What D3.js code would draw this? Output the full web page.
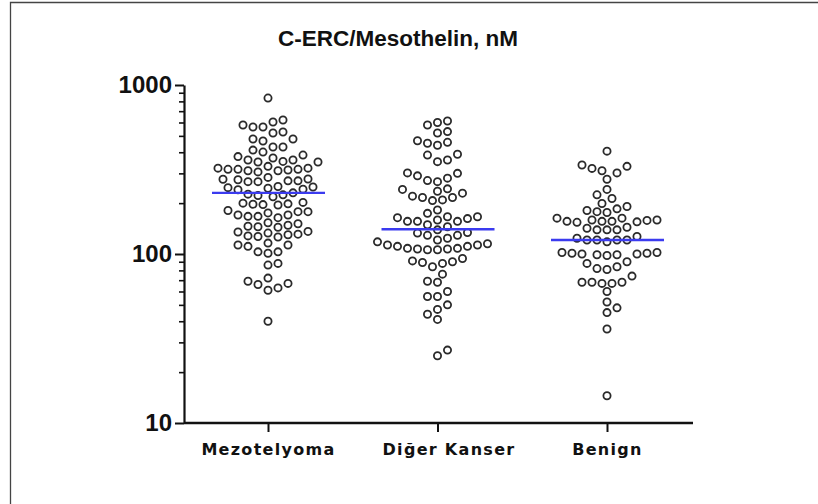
<!DOCTYPE html>
<html><head><meta charset="utf-8">
<script src="https://cdn.jsdelivr.net/npm/d3@7"></script>
<style>html,body{margin:0;padding:0;background:#fff;overflow:hidden;}svg{display:block;}</style>
</head><body><svg id="c" width="818" height="504"></svg>
<script>
const title = "C-ERC/Mesothelin, nM";
const categories = ["Mezotelyoma", "Diğer Kanser", "Benign"];
const mezotelyoma = [837, 621, 604, 580, 564, 564, 527, 520, 479, 479, 466, 430, 430, 412, 401,
  385, 377, 370, 360, 360, 353, 350, 350,
  330, 322, 322, 317, 317, 317, 314, 311, 311, 306,
  284, 278, 277, 275, 271, 271, 268, 268,
  251, 249, 247, 245, 242, 240,
  230, 226, 224, 222, 218,
  202, 200, 198, 197, 196, 195,
  181, 178, 178, 175, 170, 170, 167, 167, 164,
  153, 151, 148, 146, 145, 144,
  136, 135, 133, 131, 130, 128, 127, 126,
  116, 113, 113, 111,
  103, 103, 101,
  88, 86,
  72,
  69, 67, 66, 63, 61,
  40];
const digerKanser = [612, 600, 580, 530, 520,
  468, 458, 452, 440,
  389, 385, 360, 352,
  302, 300, 290, 281, 272, 268,
  243, 241, 235, 229, 220,
  216, 216, 209, 207, 182,
  174, 166, 166, 164, 162, 159,
  156, 156, 156, 149, 145,
  139, 134, 133, 129, 129, 124, 121,
  118, 115, 113, 113, 111, 111, 108, 108, 107, 107, 106, 106,
  94, 91, 90, 89, 88, 84,
  76, 69, 68, 60, 56, 56, 50, 47, 44, 41, 27, 25];
const benign = [406, 336, 330, 321, 311, 302, 277, 241, 224, 213, 199,
  191, 185, 181, 178, 176,
  163, 163, 159, 159, 158, 156, 156, 156, 155, 154,
  144, 142, 139, 139, 139,
  127, 124, 121, 121, 121, 121, 118,
  102, 102, 101, 101, 100, 100, 99, 99, 98,
  90, 88, 84, 82, 81,
  74, 68, 68, 68, 67, 67,
  60, 52, 48, 45, 36, 14.5];
const medians = [230, 140, 121];
const majorTicks = [10, 100, 1000];
const minorTicks = [20, 30, 40, 50, 60, 70, 80, 90, 200, 300, 400, 500, 600, 700, 800, 900];

const groups = [mezotelyoma, digerKanser, benign];

const svg = d3.select("#c");
svg.append("rect").attr("width", 818).attr("height", 504).attr("fill", "#fff");
svg.append("path").attr("d", "M10.5,504V2.5H818").attr("fill", "none")
  .attr("stroke", "#444").attr("stroke-width", 1.3);

const y = d3.scaleLog().domain([10, 1000]).range([423, 85]);
const x = d3.scalePoint().domain(categories).range([268, 607]);
const axisLeftX = 184, axisRightX = 693;

// title
svg.append("text").attr("x", 398).attr("y", 46).attr("text-anchor", "middle")
  .style("font-family", "'Liberation Sans', Arial, sans-serif").style("font-weight", "bold")
  .style("font-size", "22.5px").attr("fill", "#111").text(title);

// y axis minor ticks
const gMinor = svg.append("g").attr("transform", `translate(${axisLeftX},0)`)
  .call(d3.axisLeft(y).tickValues(minorTicks).tickSize(5).tickSizeOuter(0).tickFormat(""));
gMinor.select(".domain").remove();
gMinor.selectAll(".tick line").attr("stroke", "#111").attr("stroke-width", 1.6);

// y axis major ticks + labels
const gMajor = svg.append("g").attr("transform", `translate(${axisLeftX},0)`)
  .call(d3.axisLeft(y).tickValues(majorTicks).tickSize(9).tickSizeOuter(0).tickPadding(3)
    .tickFormat(d3.format("d")));
gMajor.select(".domain").attr("stroke", "#111").attr("stroke-width", 2.2);
gMajor.selectAll(".tick line").attr("stroke", "#111").attr("stroke-width", 2);
gMajor.selectAll(".tick text")
  .style("font-family", "'Liberation Sans', Arial, sans-serif").style("font-weight", "bold")
  .style("font-size", "24px").attr("fill", "#111");

// x axis
const gx = svg.append("g").attr("transform", `translate(0,${y(10)})`)
  .call(d3.axisBottom(x).tickSize(9).tickSizeOuter(0).tickPadding(12));
gx.select(".domain").remove();
gx.insert("line", ":first-child").attr("x1", axisLeftX).attr("x2", axisRightX)
  .attr("stroke", "#111").attr("stroke-width", 2.6);
gx.selectAll(".tick line").attr("stroke", "#111").attr("stroke-width", 2);
gx.selectAll(".tick text")
  .style("font-family", "'DejaVu Sans', Verdana, sans-serif").style("font-weight", "bold")
  .style("font-size", "16px").style("letter-spacing", "1.3px").attr("fill", "#111")
  .attr("dx", (d) => d === "Diğer Kanser" ? 11 : 0);

// beeswarm layout (x offsets computed from the values, y from the log scale)
function swarm(values) {
  const pts = values.map(v => ({ v, py: y(v) })).sort((a, b) => b.py - a.py);
  const placed = [];
  const step = 5, minD = 9.5;
  let flip = 1;
  for (const p of pts) {
    let k = 0;
    for (;;) {
      const cands = k === 0 ? [0] : [flip * k * step, -flip * k * step];
      let found = null;
      for (const o of cands) {
        if (placed.every(q => (q.o - o) ** 2 + (q.py - p.py) ** 2 >= minD * minD)) { found = o; break; }
      }
      if (found !== null) { p.o = found; if (found !== 0) flip = -flip; break; }
      k++;
    }
    placed.push(p);
  }
  return placed;
}

groups.forEach((vals, i) => {
  const cx = x(categories[i]);
  const pts = swarm(vals);
  svg.append("g").selectAll("circle").data(pts).join("circle")
    .attr("cx", d => cx + d.o).attr("cy", d => y(d.v)).attr("r", 3.6)
    .attr("fill", "none").attr("stroke", "#2a2a2a").attr("stroke-width", 1.8);
  svg.append("line")
    .attr("x1", cx - 56).attr("x2", cx + 57)
    .attr("y1", y(medians[i])).attr("y2", y(medians[i]))
    .attr("stroke", "#3b3bef").attr("stroke-width", 2.4);
});
</script></body></html>
